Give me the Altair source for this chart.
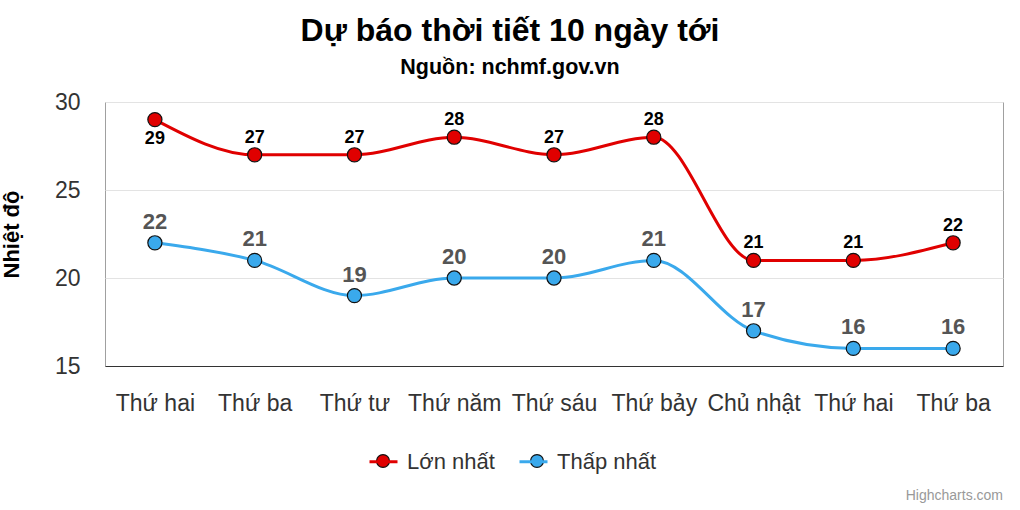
import altair as alt
import pandas as pd

days = ["Thứ hai", "Thứ ba", "Thứ tư", "Thứ năm", "Thứ sáu", "Thứ bảy", "Chủ nhật", "Thứ hai", "Thứ ba"]
max_temp = [29, 27, 27, 28, 27, 28, 21, 21, 22]
min_temp = [22, 21, 19, 20, 20, 21, 17, 16, 16]
series_names = ["Lớn nhất", "Thấp nhất"]
series_colors = ["#e00000", "#3aa9ec"]
y_ticks = [15, 20, 25, 30]

rows = []
for i, (d, hi, lo) in enumerate(zip(days, max_temp, min_temp)):
    rows.append({"i": i, "day": d, "series": series_names[0], "temp": hi})
    rows.append({"i": i, "day": d, "series": series_names[1], "temp": lo})
df = pd.DataFrame(rows)

FONT = "Liberation Sans"
label_expr = "[" + ",".join("'" + d + "'" for d in days) + "][datum.value]"

x = alt.X(
    "i:O",
    scale=alt.Scale(type="point", padding=0.5),
    axis=alt.Axis(
        labelExpr=label_expr, title=None, labelAngle=0, ticks=False,
        domainColor="#333333", domainWidth=1, labelFontSize=23, labelColor="#333333",
        labelPadding=26, labelOverlap=False, grid=False,
    ),
)
y = alt.Y(
    "temp:Q",
    scale=alt.Scale(domain=[15, 30], nice=False, zero=False),
    axis=alt.Axis(
        values=y_ticks, title="Nhiệt độ", titleFontSize=22, titleFontWeight="bold",
        titleColor="#000000", titleAngle=270, titleX=-87, titleY=132,
        titleAlign="center", titleBaseline="alphabetic",
        domain=False, ticks=False, labelFontSize=23, labelColor="#333333",
        labelPadding=25, grid=True, gridColor="#e3e3e3", gridWidth=1,
    ),
)

color_scale = alt.Scale(domain=series_names, range=series_colors)
SYM = 784
legend_pos = dict(orient="none", legendX=263, legendY=344, direction="horizontal",
                  title=None, symbolSize=SYM, padding=0)

base = alt.Chart(df)

lines = base.mark_line(interpolate="monotone", strokeWidth=3).encode(
    x=x, y=y,
    color=alt.Color(
        "series:N", scale=color_scale,
        legend=alt.Legend(symbolType="M-1,0H1", symbolStrokeWidth=3,
                          labelFontSize=22, labelColor="#333333", labelOffset=8,
                          columnPadding=18, labelFont=FONT, **legend_pos),
    ),
)

points = base.mark_point(shape="circle", filled=True, size=200, stroke="#111111",
                         strokeWidth=1.2, opacity=1).encode(
    x=x, y=y,
    fill=alt.Fill(
        "series:N", scale=alt.Scale(domain=series_names, range=series_colors),
        legend=alt.Legend(
            symbolType="M0.46,0A0.46,0.46,0,1,1,-0.46,0A0.46,0.46,0,1,1,0.46,0Z",
            symbolStrokeColor="#111111", symbolStrokeWidth=1.2, symbolOpacity=1,
            labelExpr="''", labelOffset=0, labelFontSize=22, columnPadding=124,
            **legend_pos,
        ),
    ),
)

red_above = base.transform_filter(
    (alt.datum.series == series_names[0]) & (alt.datum.i > 0)
).mark_text(dy=-17, fontSize=18, fontWeight="bold", color="#000000").encode(
    x=x, y=y, text="temp:Q")

red_below = base.transform_filter(
    (alt.datum.series == series_names[0]) & (alt.datum.i == 0)
).mark_text(dy=19, fontSize=18, fontWeight="bold", color="#000000").encode(
    x=x, y=y, text="temp:Q")

blue_labels = base.transform_filter(
    alt.datum.series == series_names[1]
).mark_text(dy=-21, fontSize=22, fontWeight="bold", color="#555555").encode(
    x=x, y=y, text="temp:Q")

credits = alt.Chart(pd.DataFrame({"t": ["Highcharts.com"]})).mark_text(
    align="right", baseline="middle", fontSize=14, color="#999999"
).encode(x=alt.value(898), y=alt.value(394), text="t:N")

chart = alt.layer(lines, points, red_above, red_below, blue_labels, credits).properties(
    width=898, height=264,
    autosize=alt.AutoSizeParams(type="none"),
    padding={"left": 105, "top": 102, "right": 17, "bottom": 144},
    title=alt.TitleParams(
        text="Dự báo thời tiết 10 ngày tới", subtitle="Nguồn: nchmf.gov.vn",
        fontSize=32, fontWeight="bold", color="#000000", font=FONT,
        subtitleFontSize=21.5, subtitleFontWeight="bold", subtitleColor="#000000",
        subtitleFont=FONT, subtitlePadding=9, anchor="middle", dx=-44, offset=12,
    ),
).resolve_scale(color="independent").configure(font=FONT).configure_view(
    stroke="#a0a0a0", strokeWidth=1
)

chart.save("out.html", embed_options={"renderer": "svg", "actions": False})
